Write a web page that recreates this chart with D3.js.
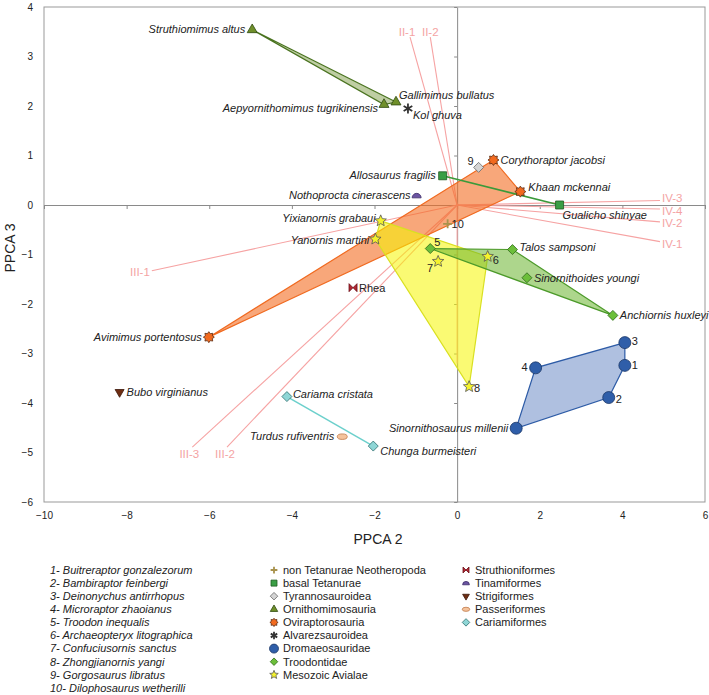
<!DOCTYPE html>
<html lang="en">
<head>
<meta charset="UTF-8">
<title>PPCA 2 vs PPCA 3</title>
<style>
  body { margin: 0; background: #fff; }
  svg { font-family: "Liberation Sans", Arial, sans-serif; }
  .taxon { font-size: 11px; font-style: italic; fill: #222; }
  .plain { font-size: 11px; fill: #222; }
  .vec-label { font-size: 11.5px; fill: #f4a3a3; }
  .legend { font-size: 11px; fill: #222; }
</style>
</head>
<body>
<svg width="709" height="695"></svg>
<script src="https://d3js.org/d3.v7.min.js"></script>
<script>
// ---- data ----
var taxa = [
  "Struthiomimus altus", "Aepyornithomimus tugrikinensis", "Gallimimus bullatus", "Kol ghuva",
  "9", "Corythoraptor jacobsi", "Khaan mckennai", "Avimimus portentosus",
  "Allosaurus fragilis", "Gualicho shinyae", "Nothoprocta cinerascens",
  "Yixianornis grabaui", "Yanornis martini", "6", "7", "8",
  "5", "Talos sampsoni", "Sinornithoides youngi", "Anchiornis huxleyi",
  "10", "Rhea", "3", "1", "4", "2", "Sinornithosaurus millenii",
  "Bubo virginianus", "Cariama cristata", "Chunga burmeisteri", "Turdus rufiventris"
];
var taxonGroup = [
  "Ornithomimosauria", "Ornithomimosauria", "Ornithomimosauria", "Alvarezsauroidea",
  "Tyrannosauroidea", "Oviraptorosauria", "Oviraptorosauria", "Oviraptorosauria",
  "basal Tetanurae", "basal Tetanurae", "Tinamiformes",
  "Mesozoic Avialae", "Mesozoic Avialae", "Mesozoic Avialae", "Mesozoic Avialae", "Mesozoic Avialae",
  "Troodontidae", "Troodontidae", "Troodontidae", "Troodontidae",
  "non Tetanurae Neotheropoda", "Struthioniformes",
  "Dromaeosauridae", "Dromaeosauridae", "Dromaeosauridae", "Dromaeosauridae", "Dromaeosauridae",
  "Strigiformes", "Cariamiformes", "Cariamiformes", "Passeriformes"
];
var ppca2 = [-4.96, -1.77, -1.48, -1.19, 0.52, 0.88, 1.53, -6.01, -0.35, 2.48, -0.98,
  -1.85, -1.98, 0.74, -0.46, 0.29, -0.65, 1.34, 1.69, 3.77, -0.23, -2.52,
  4.06, 4.06, 1.90, 3.67, 1.43, -8.17, -4.12, -2.03, -2.78];
var ppca3 = [3.54, 2.03, 2.08, 1.95, 0.76, 0.91, 0.27, -2.67, 0.59, 0.00, 0.19,
  -0.32, -0.69, -1.04, -1.14, -3.67, -0.88, -0.90, -1.47, -2.23, -0.38, -1.67,
  -2.78, -3.24, -3.29, -3.89, -4.51, -3.78, -3.87, -4.87, -4.68];

var vectorNames = ["II-1", "II-2", "III-1", "III-2", "III-3", "IV-1", "IV-2", "IV-3", "IV-4", ""];
var vectorX = [-1.14, -0.65, -7.39, -5.57, -6.41, 4.91, 4.91, 4.91, 4.91, 0];
var vectorY = [3.39, 3.39, -1.33, -4.89, -4.89, -0.74, -0.34, 0.09, -0.08, -3.2];

var numberedTaxa = [
  "Buitreraptor gonzalezorum", "Bambiraptor feinbergi", "Deinonychus antirrhopus",
  "Microraptor zhaoianus", "Troodon inequalis", "Archaeopteryx litographica",
  "Confuciusornis sanctus", "Zhongjianornis yangi", "Gorgosaurus libratus",
  "Dilophosaurus wetherilli"
];
var legendTheropods = ["non Tetanurae Neotheropoda", "basal Tetanurae", "Tyrannosauroidea",
  "Ornithomimosauria", "Oviraptorosauria", "Alvarezsauroidea", "Dromaeosauridae",
  "Troodontidae", "Mesozoic Avialae"];
var legendBirds = ["Struthioniformes", "Tinamiformes", "Strigiformes", "Passeriformes", "Cariamiformes"];

var xTicks = [-10, -8, -6, -4, -2, 0, 2, 4, 6];
var yTicks = [-6, -5, -4, -3, -2, -1, 0, 1, 2, 3, 4];

// ---- styles / layout ----
var style = {
  "non Tetanurae Neotheropoda": {shape: "plus", fill: "none", stroke: "#a8924c", s: 9},
  "basal Tetanurae": {shape: "square", fill: "#3a9e45", stroke: "#1f5a22", s: 8},
  "Tyrannosauroidea": {shape: "diamond", fill: "#d4d4d4", stroke: "#666", s: 10},
  "Ornithomimosauria": {shape: "triangle", fill: "#6f8f2a", stroke: "#2f4a10", s: 10},
  "Oviraptorosauria": {shape: "burst", fill: "#f26a1f", stroke: "#5a2a10", s: 11},
  "Alvarezsauroidea": {shape: "asterisk", fill: "none", stroke: "#333", s: 10},
  "Dromaeosauridae": {shape: "circle", fill: "#2f5ea9", stroke: "#1a3666", s: 12},
  "Troodontidae": {shape: "diamond", fill: "#6cbf3a", stroke: "#2f6a1a", s: 10},
  "Mesozoic Avialae": {shape: "star", fill: "#f4f22c", stroke: "#555", s: 12},
  "Struthioniformes": {shape: "bowtie", fill: "#b32632", stroke: "#6a1018", s: 8},
  "Tinamiformes": {shape: "dome", fill: "#6b55a3", stroke: "#3a2a66", s: 9},
  "Strigiformes": {shape: "invtriangle", fill: "#6e2d12", stroke: "#3a1508", s: 9},
  "Passeriformes": {shape: "ellipse", fill: "#f5c39c", stroke: "#c07848", s: 10},
  "Cariamiformes": {shape: "diamond", fill: "#8fd6d6", stroke: "#2f6f6f", s: 10}
};
var hullStyle = [
  {group: "Ornithomimosauria", fill: "#8aa557", stroke: "#4a7320", opacity: 0.55},
  {group: "Oviraptorosauria", fill: "#f36d22", stroke: "#f06a20", opacity: 0.6},
  {group: "Mesozoic Avialae", fill: "#f5f500", stroke: "#d9e021", opacity: 0.55},
  {group: "Troodontidae", fill: "#6ab42e", stroke: "#4c9a2a", opacity: 0.55},
  {group: "Dromaeosauridae", fill: "#a6b9dd", stroke: "#2d5ba6", opacity: 0.9}
];
var linkStyle = [
  {group: "basal Tetanurae", stroke: "#3a9a3a"},
  {group: "Cariamiformes", stroke: "#6cd0cc"}
];
// label offsets in px from the marker: [dx, dy, anchor]
var labelPos = {
  "Struthiomimus altus": [-7, -1, "end"], "Aepyornithomimus tugrikinensis": [-6, 4, "end"],
  "Gallimimus bullatus": [3, -7, "start"], "Kol ghuva": [5, 7, "start"],
  "9": [-5, -6, "end"], "Corythoraptor jacobsi": [7, 0, "start"], "Khaan mckennai": [8, -4, "start"],
  "Avimimus portentosus": [-7, 0, "end"], "Allosaurus fragilis": [-7, -1, "end"],
  "Gualicho shinyae": [3, 10, "start"], "Nothoprocta cinerascens": [-6, 0, "end"],
  "Yixianornis grabaui": [-5, -3, "end"], "Yanornis martini": [-6, 1, "end"],
  "6": [5, 4, "start"], "7": [-5, 7, "end"], "8": [5, 1, "start"], "5": [4, -6, "start"],
  "Talos sampsoni": [7, -2, "start"], "Sinornithoides youngi": [7, 0, "start"],
  "Anchiornis huxleyi": [7, 0, "start"], "10": [4, 0, "start"], "Rhea": [6, 0, "start"],
  "3": [7, -1, "start"], "1": [7, 0, "start"], "4": [-8, -1, "end"], "2": [7, 2, "start"],
  "Sinornithosaurus millenii": [-8, 0, "end"], "Bubo virginianus": [7, 0, "start"],
  "Cariama cristata": [6, -2, "start"], "Chunga burmeisteri": [7, 5, "start"],
  "Turdus rufiventris": [-8, -1, "end"]
};
var vecLabelPos = {
  "II-1": [-3, -5, "middle"], "II-2": [0, -5, "middle"], "III-1": [-2, 1, "end"],
  "III-2": [-2, 7, "middle"], "III-3": [-3, 7, "middle"], "IV-1": [2, 2, "start"],
  "IV-2": [2, 1, "start"], "IV-3": [2, -3, "start"], "IV-4": [2, 2, "start"]
};

var svg = d3.select("svg"),
    margin = {top: 7, right: 4, bottom: 193, left: 44},
    width = 709 - margin.left - margin.right,
    height = 695 - margin.top - margin.bottom;

var x = d3.scaleLinear().domain([-10, 6]).range([margin.left, margin.left + width]),
    y = d3.scaleLinear().domain([-6, 4]).range([margin.top + height, margin.top]);

var points = taxa.map(function(name, i) {
  return {name: name, group: taxonGroup[i], x: ppca2[i], y: ppca3[i]};
});

function starPath(n, R, r) {
  var p = [];
  for (var k = 0; k < 2 * n; k++) {
    var a = Math.PI * k / n - Math.PI / 2, rad = k % 2 ? r : R;
    p.push([rad * Math.cos(a), rad * Math.sin(a)]);
  }
  return "M" + p.join("L") + "Z";
}

function markerPath(shape, s) {
  var h = s / 2;
  switch (shape) {
    case "circle": return d3.symbol(d3.symbolCircle, Math.PI * h * h)();
    case "square": return d3.symbol(d3.symbolSquare, s * s)();
    case "triangle": return d3.symbol(d3.symbolTriangle, 0.433 * s * s)();
    case "invtriangle": return d3.symbol(d3.symbolTriangle, 0.433 * s * s)();
    case "diamond": return "M0," + (-h) + "L" + h + ",0L0," + h + "L" + (-h) + ",0Z";
    case "star": return starPath(5, h, h * 0.45);
    case "burst": return starPath(8, h, h * 0.68);
    case "plus": return "M" + (-h) + ",0H" + h + "M0," + (-h) + "V" + h;
    case "asterisk":
      var d = "";
      [90, 30, 150].forEach(function(a) {
        var c = Math.cos(a * Math.PI / 180) * h, sn = Math.sin(a * Math.PI / 180) * h;
        d += "M" + (-c) + "," + (-sn) + "L" + c + "," + sn;
      });
      return d;
    case "bowtie": return "M" + (-h) + "," + (-h) + "L" + h + "," + h + "L" + h + "," + (-h) + "L" + (-h) + "," + h + "Z";
    case "dome": return "M" + (-h) + "," + (h * 0.5) + "A" + h + "," + h + " 0 0 1 " + h + "," + (h * 0.5) + "Z";
    case "ellipse":
      var ry = h * 0.55;
      return "M" + (-h) + ",0A" + h + "," + ry + " 0 1 0 " + h + ",0A" + h + "," + ry + " 0 1 0 " + (-h) + ",0Z";
  }
}

function drawMarker(sel, group, scale) {
  var st = style[group], line = (st.shape === "plus" || st.shape === "asterisk");
  sel.append("path")
    .attr("d", markerPath(st.shape, st.s * scale))
    .attr("transform", st.shape === "invtriangle" ? "rotate(180)" : null)
    .attr("fill", st.fill)
    .attr("stroke", st.stroke)
    .attr("stroke-width", line ? 1.8 : 0.8);
}

// frame
svg.append("rect")
  .attr("x", x(-10)).attr("y", y(4))
  .attr("width", x(6) - x(-10)).attr("height", y(-6) - y(4))
  .attr("fill", "none").attr("stroke", "#999");

// tick labels on the frame
svg.append("g")
  .attr("transform", "translate(" + x(-10) + ",0)")
  .attr("font-size", 13.5).attr("font-family", "Liberation Sans, Arial, sans-serif")
  .call(d3.axisLeft(y).tickValues(yTicks).tickSize(0).tickPadding(11))
  .call(function(g) { g.select(".domain").remove(); g.selectAll("text").attr("fill", "#222"); });

svg.append("g")
  .attr("transform", "translate(0," + y(-6) + ")")
  .attr("font-size", 13.5).attr("font-family", "Liberation Sans, Arial, sans-serif")
  .call(d3.axisBottom(x).tickValues(xTicks).tickSize(0).tickPadding(10))
  .call(function(g) { g.select(".domain").remove(); g.selectAll("text").attr("fill", "#222"); });

// zero lines with ticks
svg.append("g")
  .attr("transform", "translate(" + x(0) + ",0)")
  .attr("color", "#8a8a8a")
  .call(d3.axisLeft(y).tickValues(yTicks).tickSize(3).tickSizeOuter(0).tickFormat(""));
svg.append("g")
  .attr("transform", "translate(0," + y(0) + ")")
  .attr("color", "#8a8a8a")
  .call(d3.axisBottom(x).tickValues(xTicks).tickSize(4).tickSizeOuter(0).tickFormat(""));

// axis titles
svg.append("text")
  .attr("x", 378).attr("y", 544)
  .attr("text-anchor", "middle").attr("font-size", 14).attr("fill", "#222")
  .text("PPCA 2");
svg.append("text")
  .attr("transform", "translate(15,248) rotate(-90)")
  .attr("text-anchor", "middle").attr("font-size", 14).attr("fill", "#222")
  .text("PPCA 3");

// loading vectors
var vectors = vectorNames.map(function(n, i) { return {name: n, x: vectorX[i], y: vectorY[i]}; });
svg.append("g").selectAll("line")
  .data(vectors)
  .enter().append("line")
    .attr("x1", x(0)).attr("y1", y(0))
    .attr("x2", function(d) { return x(d.x); })
    .attr("y2", function(d) { return y(d.y); })
    .attr("stroke", "#f6a3a3").attr("stroke-width", 1.1);

svg.append("g").selectAll("text")
  .data(vectors.filter(function(d) { return d.name; }))
  .enter().append("text")
    .attr("class", "vec-label")
    .attr("x", function(d) { return x(d.x) + vecLabelPos[d.name][0]; })
    .attr("y", function(d) { return y(d.y) + vecLabelPos[d.name][1]; })
    .attr("dy", "0.35em")
    .attr("text-anchor", function(d) { return vecLabelPos[d.name][2]; })
    .text(function(d) { return d.name; });

// convex hulls
hullStyle.forEach(function(h) {
  var pts = points.filter(function(p) { return p.group === h.group; })
    .map(function(p) { return [x(p.x), y(p.y)]; });
  var hull = d3.polygonHull(pts);
  svg.append("path")
    .attr("d", "M" + hull.join("L") + "Z")
    .attr("fill", h.fill).attr("fill-opacity", h.opacity)
    .attr("stroke", h.stroke).attr("stroke-width", 1.2);
});

// links for two-member groups
linkStyle.forEach(function(l) {
  var pts = points.filter(function(p) { return p.group === l.group; });
  svg.append("path")
    .attr("d", d3.line().x(function(p) { return x(p.x); }).y(function(p) { return y(p.y); })(pts))
    .attr("fill", "none").attr("stroke", l.stroke).attr("stroke-width", 1.5);
});

// markers
var marks = svg.append("g").selectAll("g")
  .data(points)
  .enter().append("g")
    .attr("transform", function(d) { return "translate(" + x(d.x) + "," + y(d.y) + ")"; });
marks.each(function(d) { drawMarker(d3.select(this), d.group, 1); });

// labels
svg.append("g").selectAll("text")
  .data(points)
  .enter().append("text")
    .attr("class", function(d) { return /^\d+$/.test(d.name) || d.name === "Rhea" ? "plain" : "taxon"; })
    .attr("x", function(d) { return x(d.x) + labelPos[d.name][0]; })
    .attr("y", function(d) { return y(d.y) + labelPos[d.name][1]; })
    .attr("dy", "0.35em")
    .attr("text-anchor", function(d) { return labelPos[d.name][2]; })
    .text(function(d) { return d.name; });

// legend
var rowH = 13.1, legendTop = 570;
svg.append("g").selectAll("text")
  .data(numberedTaxa)
  .enter().append("text")
    .attr("class", "legend")
    .attr("font-style", "italic")
    .attr("x", 50)
    .attr("y", function(d, i) { return legendTop + i * rowH; })
    .attr("dy", "0.35em")
    .text(function(d, i) { return (i + 1) + "- " + d; });

function legendColumn(items, mx) {
  var rows = svg.append("g").selectAll("g")
    .data(items)
    .enter().append("g")
      .attr("transform", function(d, i) { return "translate(" + mx + "," + (legendTop + i * rowH) + ")"; });
  rows.each(function(d) { drawMarker(d3.select(this), d, 0.75); });
  rows.append("text")
    .attr("class", "legend")
    .attr("x", 9).attr("dy", "0.35em")
    .text(function(d) { return d; });
}
legendColumn(legendTheropods, 274);
legendColumn(legendBirds, 466);
</script>
</body>
</html>
